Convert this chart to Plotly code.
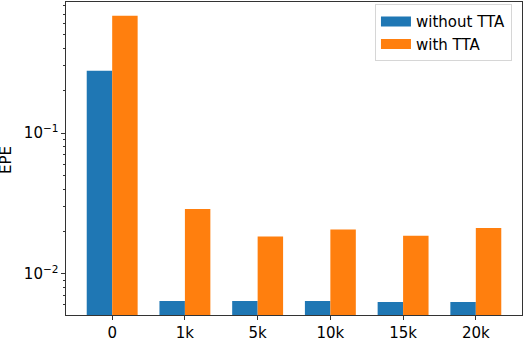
import plotly.graph_objects as go
import numpy as np

categories = ["0", "1k", "5k", "10k", "15k", "20k"]
without_tta = [0.277, 0.0064, 0.0064, 0.0064, 0.0063, 0.0063]
with_tta = [0.68, 0.0288, 0.0184, 0.0206, 0.0186, 0.0211]
series_names = ["without TTA", "with TTA"]
colors = ["#1f77b4", "#ff7f0e"]
major_ticks = [0.01, 0.1]
major_labels = ["10<sup>−2</sup>", "10<sup>−1</sup>"]
minor_ticks = [m * d for d in (0.001, 0.01, 0.1) for m in range(2, 10)]

FONT = "DejaVu Sans"
FS = 15

fig = go.Figure()
for name, vals, col in zip(series_names, [without_tta, with_tta], colors):
    fig.add_trace(go.Bar(x=categories, y=vals, name=name, marker=dict(color=col, line=dict(width=0)),
                         showlegend=False))
    fig.add_trace(go.Scatter(x=[None], y=[None], mode="lines", name=name,
                             line=dict(color=col, width=10), showlegend=True))

fig.update_layout(
    width=524, height=338,
    margin=dict(l=66, r=2, t=2, b=23, autoexpand=False),
    paper_bgcolor="white", plot_bgcolor="white",
    barmode="group", bargap=0.3, bargroupgap=0,
    font=dict(family=FONT, size=FS, color="black"),
    legend=dict(x=0.978, y=0.993, xanchor="right", yanchor="top",
                bordercolor="#d6d6d6", borderwidth=1, bgcolor="rgba(255,255,255,0.8)",
                font=dict(size=FS), tracegroupgap=0, itemwidth=30),
    xaxis=dict(type="category", range=[-0.635, 5.635], showline=True, mirror=True,
               linecolor="#333", linewidth=1.1, ticks="outside", ticklen=3.5, tickwidth=1.1,
               tickcolor="#333", showgrid=False, zeroline=False, automargin=False),
    yaxis=dict(type="log", range=[np.log10(0.00509), np.log10(0.853)], showline=True, mirror=True,
               linecolor="#333", linewidth=1.1, ticks="outside", ticklen=3.5, tickwidth=1.1,
               tickcolor="#333", tickmode="array", tickvals=major_ticks, ticktext=major_labels,
               showgrid=False, zeroline=False, automargin=False,
               minor=dict(tickmode="array", tickvals=minor_ticks, ticks="outside", ticklen=2,
                          tickwidth=0.8, tickcolor="#333", showgrid=False)),
    annotations=[dict(text="EPE", xref="paper", yref="paper", x=-0.1316, y=0.495,
                      xanchor="center", yanchor="middle", textangle=-90, showarrow=False,
                      font=dict(size=FS))],
)
fig.write_html("out.html", config={"displayModeBar": False},
               post_script="document.body.style.margin='0';document.body.style.padding='0';")
